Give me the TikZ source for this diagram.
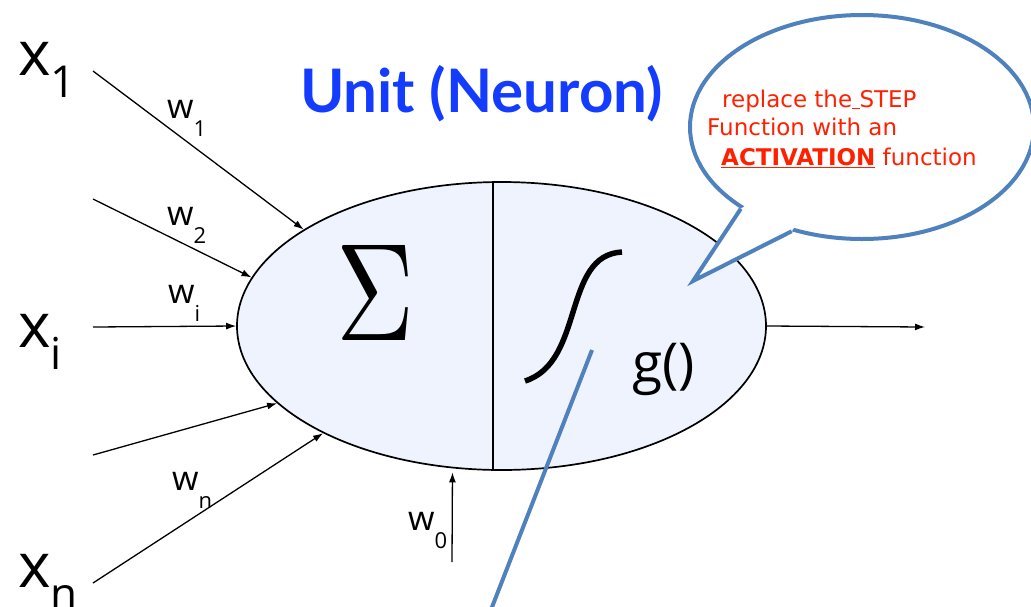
\documentclass[tikz,border=0pt]{standalone}
\usepackage{fontspec}
\setmainfont{DejaVu Sans}
\newfontfamily\lblfont{Open Sans}
\newfontfamily\titlefont{Lato}
\usetikzlibrary{arrows.meta,shapes.geometric}

\definecolor{unitfill}{RGB}{238,243,253}
\definecolor{titleblue}{RGB}{20,60,255}
\definecolor{callblue}{RGB}{79,129,189}
\definecolor{callred}{RGB}{255,32,0}

\newcommand{\inlabel}[2]{{\lblfont\fontsize{62}{62}\selectfont #1\raisebox{-22pt}{\fontsize{44}{44}\selectfont #2}}}
\newcommand{\wlabel}[1]{{\lblfont\fontsize{34}{34}\selectfont w\raisebox{-18pt}{\fontsize{22}{22}\selectfont #1}}}

\begin{document}
\begin{tikzpicture}[x=1pt, y=-1pt,
  lbl/.style={anchor=base west, inner sep=0pt},
  fl/.style={-{Latex[length=10pt,width=7pt]}, line width=1.3pt},
  calltxt/.style={lbl, text=callred, font=\fontsize{23}{26}\selectfont},
  bubble/.style={ellipse, inner sep=0pt},
]
\useasboundingbox (0,0) rectangle (1031,606);

% ---------- unit ----------
\node[bubble, draw, line width=1.7pt, fill=unitfill,
      minimum width=529pt, minimum height=288pt] (unit) at (501.5,326) {};
\draw[line width=1.5pt] ([xshift=-8.5pt]unit.north) -- ([xshift=-8.5pt]unit.south);
\node[inner sep=0pt] (sum) at (376,292.5) {\resizebox{78pt}{95pt}{$\Sigma$}};
\draw[line width=5.5pt] (525,381) .. controls (585,362) and (562,255) .. (622,252);
\node[lbl, font=\lblfont\fontsize{55}{55}\selectfont] (g) at (632,382) {g()};

% ---------- inputs ----------
\node[lbl] (x1) at (18,75) {\inlabel{x}{1}};
\node[lbl] (xi) at (18,347) {\inlabel{x}{i}};
\node[lbl] (xn) at (18,587) {\inlabel{x}{n}};

\coordinate (s1) at (93,71);
\coordinate (s2) at (93,199);
\coordinate (si) at (93,327);
\coordinate (s4) at (93,455);
\coordinate (sn) at (93,583);
\coordinate (s0) at (452,562);
\coordinate (out) at (925,327);

\foreach \a/\b in {s1/154,s2/169,si/180,s4/199,sn/211} \draw[fl] (\a) -- (unit.\b);
\draw[fl, shorten >=4pt] (s0) -- (unit.251);
\draw[fl] (unit.east) -- (out);

\node[lbl] (w1) at (167,118) {\wlabel{1}};
\node[lbl] (w2) at (167,225) {\wlabel{2}};
\node[lbl] (wi) at (168,303) {\wlabel{i}};
\node[lbl] (wn) at (172,490) {\wlabel{n}};
\node[lbl] (w0) at (408,530) {\wlabel{0}};

% ---------- title ----------
\node[lbl, text=titleblue, font=\titlefont\bfseries\fontsize{60}{60}\selectfont] (title) at (300,112) {Unit (Neuron)};

% ---------- callout ----------
\node[bubble, draw=callblue, line width=4pt, fill=white,
      minimum width=344pt, minimum height=224pt] (callout) at (862,127) {};
\coordinate (tip) at (693,281);
\fill[white] (callout.214) -- (tip) -- (callout.236) -- (callout.center) -- cycle;
\draw[callblue, line width=4pt] (callout.214) -- (tip) -- (callout.236);
\node[calltxt] (ct1) at (722,107) {replace the\underline{\ }STEP};
\node[calltxt] (ct2) at (707,135) {Function with an};
\node[calltxt] (ct3) at (721,165) {\textbf{\underline{ACTIVATION}} function};

% pointer from below
\coordinate (ptop) at (592,350);
\coordinate (pend) at (487,620);
\draw[callblue, line width=4pt] (ptop) -- (pend);

\end{tikzpicture}
\end{document}
